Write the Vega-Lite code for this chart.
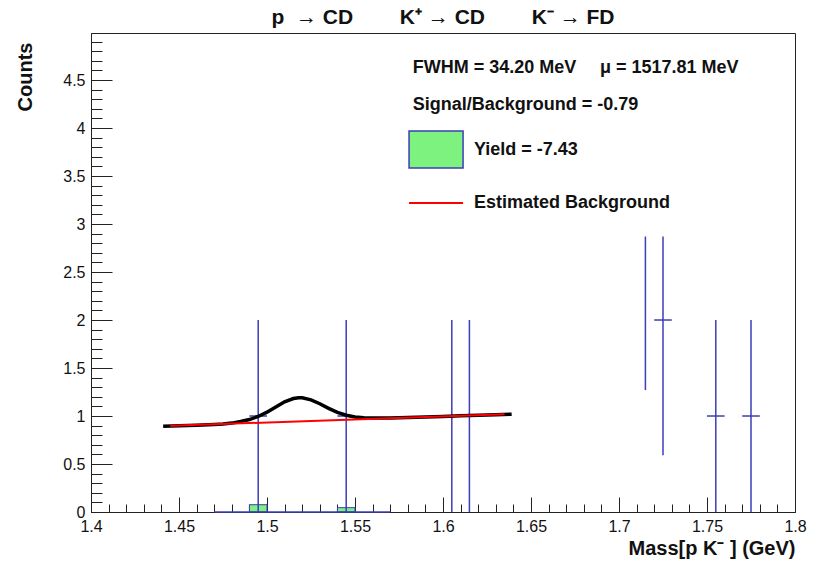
{
  "$schema": "https://vega.github.io/schema/vega-lite/v6.json",
  "width": 704,
  "height": 479,
  "autosize": "none",
  "padding": {"left": 91, "top": 33, "right": 24, "bottom": 52},
  "background": "white",
  "config": {
    "view": {"stroke": "#222222", "strokeWidth": 1},
    "font": "Liberation Sans",
    "axis": {"grid": false, "domainColor": "#222222", "tickColor": "#222222", "labelColor": "#111111", "titleColor": "#111111", "labelFont": "Liberation Sans", "titleFont": "Liberation Sans"}
  },
  "title": {
    "text": "p\u00a0\u00a0→\u00a0CD\u00a0\u00a0\u00a0\u00a0\u00a0\u00a0\u00a0\u00a0K⁺\u00a0→\u00a0CD\u00a0\u00a0\u00a0\u00a0\u00a0\u00a0\u00a0\u00a0K⁻\u00a0→\u00a0FD",
    "font": "Liberation Sans",
    "fontSize": 21,
    "fontWeight": "bold",
    "color": "#111111",
    "anchor": "middle",
    "offset": 5
  },
  "datasets": {
    "bins": [
      {"m": 1.495, "lo": 0, "hi": 2, "val": 1, "m1": 1.49, "m2": 1.5},
      {"m": 1.545, "lo": 0, "hi": 2, "val": 1, "m1": 1.54, "m2": 1.55},
      {"m": 1.605, "lo": 0, "hi": 2, "val": 1, "m1": 1.6, "m2": 1.61},
      {"m": 1.615, "lo": 0, "hi": 2, "val": 1, "m1": 1.61, "m2": 1.62},
      {"m": 1.715, "lo": 1.27, "hi": 2.87, "val": null, "m1": null, "m2": null},
      {"m": 1.725, "lo": 0.59, "hi": 2.87, "val": 2, "m1": 1.72, "m2": 1.73},
      {"m": 1.755, "lo": 0, "hi": 2, "val": 1, "m1": 1.75, "m2": 1.76},
      {"m": 1.775, "lo": 0, "hi": 2, "val": 1, "m1": 1.77, "m2": 1.78}
    ],
    "zero": [{"m1": 1.47, "m2": 1.57, "c": 0}],
    "yield": [
      {"m1": 1.49, "m2": 1.5, "c": 0.076},
      {"m1": 1.54, "m2": 1.55, "c": 0.045}
    ],
    "fit": [
      {"m": 1.441, "c": 0.893}, {"m": 1.45, "c": 0.898}, {"m": 1.46, "c": 0.905},
      {"m": 1.47, "c": 0.912}, {"m": 1.475, "c": 0.917}, {"m": 1.48, "c": 0.926},
      {"m": 1.485, "c": 0.942}, {"m": 1.49, "c": 0.963}, {"m": 1.495, "c": 0.995},
      {"m": 1.5, "c": 1.04}, {"m": 1.505, "c": 1.095}, {"m": 1.51, "c": 1.148},
      {"m": 1.515, "c": 1.182}, {"m": 1.518, "c": 1.19}, {"m": 1.52, "c": 1.189},
      {"m": 1.525, "c": 1.168}, {"m": 1.53, "c": 1.128}, {"m": 1.535, "c": 1.08},
      {"m": 1.54, "c": 1.038}, {"m": 1.545, "c": 1.008}, {"m": 1.55, "c": 0.99},
      {"m": 1.555, "c": 0.981}, {"m": 1.56, "c": 0.978}, {"m": 1.57, "c": 0.979},
      {"m": 1.58, "c": 0.984}, {"m": 1.59, "c": 0.99}, {"m": 1.6, "c": 0.996},
      {"m": 1.61, "c": 1.002}, {"m": 1.62, "c": 1.008}, {"m": 1.63, "c": 1.014},
      {"m": 1.639, "c": 1.019}
    ],
    "bg": [
      {"m": 1.445, "c": 0.898},
      {"m": 1.635, "c": 1.018}
    ]
  },
  "layer": [
    {
      "data": {"name": "yield"},
      "mark": {"type": "rect", "fill": "#7ef27e", "stroke": "#3d3db8", "strokeWidth": 1},
      "encoding": {
        "x": {
          "field": "m1", "type": "quantitative",
          "scale": {"domain": [1.4, 1.8], "nice": false, "zero": false},
          "axis": {
            "title": "Mass[p K⁻ ] (GeV)",
            "titleFontSize": 20, "titleFontWeight": "bold",
            "titleAnchor": "end", "titleAlign": "right", "titleBaseline": "middle",
            "titleX": 704, "titleY": 36,
            "values": [1.4,1.41,1.42,1.43,1.44,1.45,1.46,1.47,1.48,1.49,1.5,1.51,1.52,1.53,1.54,1.55,1.56,1.57,1.58,1.59,1.6,1.61,1.62,1.63,1.64,1.65,1.66,1.67,1.68,1.69,1.7,1.71,1.72,1.73,1.74,1.75,1.76,1.77,1.78,1.79,1.8],
            "tickCount": 200,
            "format": "~g",
            "labelExpr": "abs(datum.value*20 - round(datum.value*20)) < 0.001 ? datum.label : ''",
            "tickSize": {"condition": {"test": "abs(datum.value*20 - round(datum.value*20)) < 0.001", "value": -15}, "value": -8},
            "labelPadding": 21,
            "labelFontSize": 16,
            "labelFlush": false,
            "labelOverlap": false
          }
        },
        "x2": {"field": "m2"},
        "y": {
          "field": "c", "type": "quantitative",
          "scale": {"domain": [0, 4.99], "nice": false, "zero": false},
          "axis": {
            "title": "Counts",
            "titleFontSize": 20, "titleFontWeight": "bold",
            "titleAngle": -90, "titleAlign": "right", "titleBaseline": "middle",
            "titleX": -66, "titleY": 9,
            "values": [0,0.1,0.2,0.3,0.4,0.5,0.6,0.7,0.8,0.9,1,1.1,1.2,1.3,1.4,1.5,1.6,1.7,1.8,1.9,2,2.1,2.2,2.3,2.4,2.5,2.6,2.7,2.8,2.9,3,3.1,3.2,3.3,3.4,3.5,3.6,3.7,3.8,3.9,4,4.1,4.2,4.3,4.4,4.5,4.6,4.7,4.8,4.9],
            "tickCount": 200,
            "format": "~g",
            "labelExpr": "abs(datum.value*2 - round(datum.value*2)) < 0.001 ? datum.label : ''",
            "tickSize": {"condition": {"test": "abs(datum.value*2 - round(datum.value*2)) < 0.001", "value": -21}, "value": -11},
            "labelPadding": 27,
            "labelFontSize": 16,
            "labelFlush": false,
            "labelOverlap": false
          }
        },
        "y2": {"datum": 0}
      }
    },
    {
      "data": {"name": "zero"},
      "mark": {"type": "rule", "color": "#3d3db8", "strokeWidth": 1.5},
      "encoding": {
        "x": {"field": "m1", "type": "quantitative"},
        "x2": {"field": "m2"},
        "y": {"field": "c", "type": "quantitative"}
      }
    },
    {
      "data": {"name": "bins"},
      "mark": {"type": "rule", "color": "#3d3db8", "strokeWidth": 1.5},
      "encoding": {
        "x": {"field": "m", "type": "quantitative"},
        "y": {"field": "lo", "type": "quantitative"},
        "y2": {"field": "hi"}
      }
    },
    {
      "data": {"name": "bins"},
      "transform": [{"filter": "datum.val != null"}],
      "mark": {"type": "rule", "color": "#3d3db8", "strokeWidth": 1.5},
      "encoding": {
        "x": {"field": "m1", "type": "quantitative"},
        "x2": {"field": "m2"},
        "y": {"field": "val", "type": "quantitative"}
      }
    },
    {
      "data": {"name": "fit"},
      "mark": {"type": "line", "color": "#000000", "strokeWidth": 3.5},
      "encoding": {
        "x": {"field": "m", "type": "quantitative"},
        "y": {"field": "c", "type": "quantitative"}
      }
    },
    {
      "data": {"name": "bg"},
      "mark": {"type": "line", "color": "#ff0000", "strokeWidth": 2},
      "encoding": {
        "x": {"field": "m", "type": "quantitative"},
        "y": {"field": "c", "type": "quantitative"}
      }
    },
    {
      "data": {"values": [{}]},
      "mark": {"type": "rect", "fill": "#7ef27e", "stroke": "#3d3db8", "strokeWidth": 1.5},
      "encoding": {
        "x": {"datum": 1.5807}, "x2": {"datum": 1.6114},
        "y": {"datum": 3.969}, "y2": {"datum": 3.583}
      }
    },
    {
      "data": {"values": [{}]},
      "mark": {"type": "rule", "color": "#ff0000", "strokeWidth": 2},
      "encoding": {
        "x": {"datum": 1.5807}, "x2": {"datum": 1.6114},
        "y": {"datum": 3.219}
      }
    },
    {
      "data": {"values": [{}]},
      "mark": {"type": "text", "font": "Liberation Sans", "fontWeight": "bold", "fontSize": 18, "align": "left", "baseline": "middle", "color": "#111111", "text": "FWHM = 34.20 MeV"},
      "encoding": {"x": {"datum": 1.5828}, "y": {"datum": 4.625}}
    },
    {
      "data": {"values": [{}]},
      "mark": {"type": "text", "font": "Liberation Sans", "fontWeight": "bold", "fontSize": 18, "align": "left", "baseline": "middle", "color": "#111111", "text": "μ = 1517.81 MeV"},
      "encoding": {"x": {"datum": 1.6892}, "y": {"datum": 4.625}}
    },
    {
      "data": {"values": [{}]},
      "mark": {"type": "text", "font": "Liberation Sans", "fontWeight": "bold", "fontSize": 18, "align": "left", "baseline": "middle", "color": "#111111", "text": "Signal/Background = -0.79"},
      "encoding": {"x": {"datum": 1.5828}, "y": {"datum": 4.24}}
    },
    {
      "data": {"values": [{}]},
      "mark": {"type": "text", "font": "Liberation Sans", "fontWeight": "bold", "fontSize": 18, "align": "left", "baseline": "middle", "color": "#111111", "text": "Yield = -7.43"},
      "encoding": {"x": {"datum": 1.6176}, "y": {"datum": 3.771}}
    },
    {
      "data": {"values": [{}]},
      "mark": {"type": "text", "font": "Liberation Sans", "fontWeight": "bold", "fontSize": 18, "align": "left", "baseline": "middle", "color": "#111111", "text": "Estimated Background"},
      "encoding": {"x": {"datum": 1.6176}, "y": {"datum": 3.219}}
    }
  ]
}
